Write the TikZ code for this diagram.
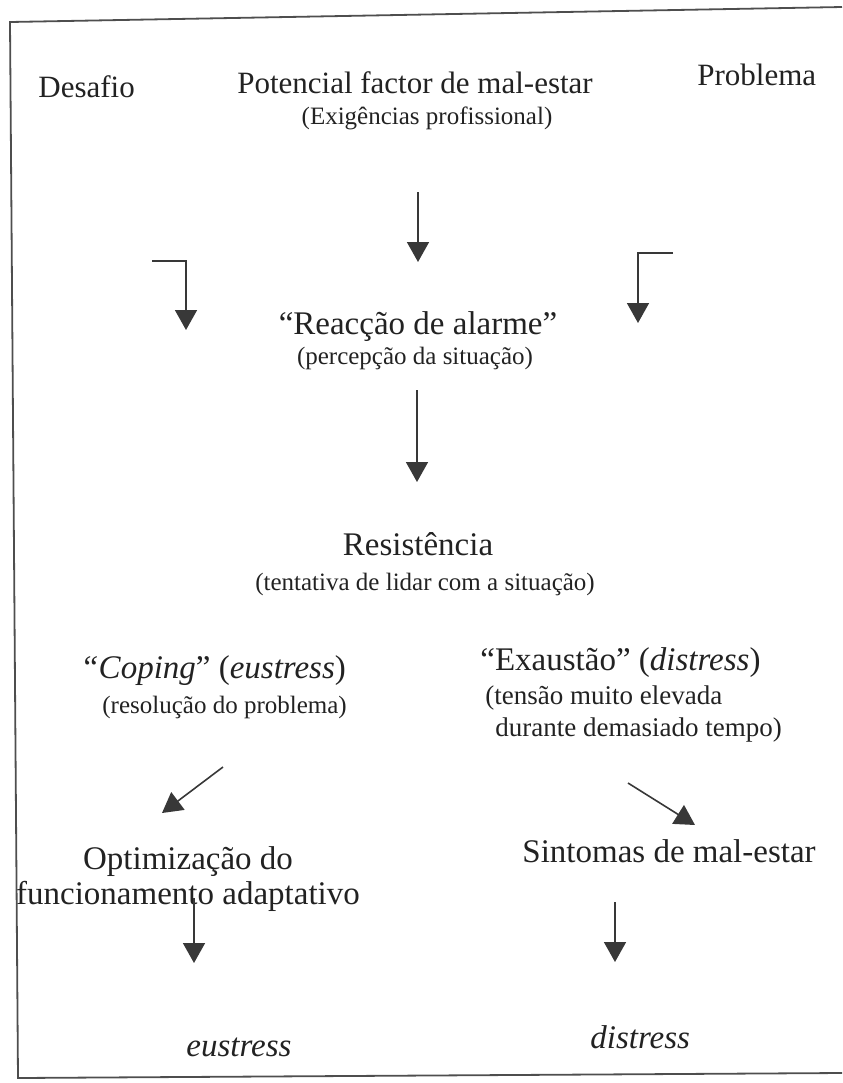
\documentclass[tikz,border=0pt]{standalone}
\usepackage{fontspec}
\setmainfont{Liberation Serif}
\usetikzlibrary{arrows.meta}
\definecolor{tinta}{HTML}{222222}
\tikzset{
	seta/.style={line width=0.8pt, color=tinta!90, -{Triangle[width=11pt,length=10pt]}},
	moldura/.style={line width=0.9pt, color=tinta!80},
	titulo/.style={inner sep=0pt, text=tinta, font=\fontsize{15.5}{18}\selectfont},
	grande/.style={inner sep=0pt, text=tinta, font=\fontsize{16.5}{17.5}\selectfont},
	sub/.style={inner sep=0pt, text=tinta, font=\fontsize{12.5}{15}\selectfont}
}

\begin{document}
\begin{tikzpicture}[x=0.5pt, y=-0.5pt]
	%%%%% START %%%%%
	\useasboundingbox (0, 0) rectangle (842, 1083);
	
	\draw[moldura] (842, 7) -- (10, 22) -- (18, 1078) -- (842, 1073);
	
	\node[titulo, anchor=base west] (desafio) at (38, 97) {Desafio};
	\node[titulo, anchor=base] (factor) at (415, 93) {Potencial factor de mal-estar};
	\node[sub, anchor=base] (exig) at (427, 124) {(Exigências profissional)};
	\node[titulo, anchor=base west] (problema) at (697, 85) {Problema};
	
	\coordinate (a1) at (418, 192);
	\coordinate (b1) at (418, 262);
	\draw[seta] (a1) -- (b1);
	
	\coordinate (c1) at (152, 261);
	\coordinate (d1) at (186, 330);
	\draw[seta] (c1) -| (d1);
	\coordinate (c2) at (673, 253);
	\coordinate (d2) at (638, 323);
	\draw[seta] (c2) -| (d2);
	
	\node[grande, anchor=base] (alarme) at (418, 334) {“Reacção de alarme”};
	\node[sub, anchor=base] (percep) at (415, 364) {(percepção da situação)};
	
	\coordinate (a2) at (417, 390);
	\coordinate (b2) at (417, 482);
	\draw[seta] (a2) -- (b2);
	
	\node[grande, anchor=base] (resist) at (418, 555) {Resistência};
	\node[sub, anchor=base] (tentat) at (425, 590) {(tentativa de lidar com a situação)};
	
	\node[grande, anchor=base west] (coping) at (80, 678) {\textit{“Coping}” (\textit{eustress})};
	\node[sub, anchor=base west] (resol) at (102, 713) {(resolução do problema)};
	\node[grande, anchor=base west] (exaust) at (480, 670) {“Exaustão” (\textit{distress})};
	\node[sub, anchor=west, align=left, font=\fontsize{13.5}{16}\selectfont] (tensao) at (485, 714)
		{(tensão muito elevada\\\hspace*{5pt}durante demasiado tempo)};
	
	\coordinate (a3) at (223, 767);
	\coordinate (b3) at (162, 813);
	\draw[seta] (a3) -- (b3);
	\coordinate (a4) at (628, 783);
	\coordinate (b4) at (695, 825);
	\draw[seta] (a4) -- (b4);
	
	\node[grande, align=center] (optim) at (188, 879) {Optimização do\\funcionamento adaptativo};
	\node[grande, anchor=base west] (sintomas) at (522, 862) {Sintomas de mal-estar};
	
	\coordinate (a5) at (194, 898);
	\coordinate (b5) at (194, 963);
	\draw[seta] (a5) -- (b5);
	\coordinate (a6) at (615, 902);
	\coordinate (b6) at (615, 962);
	\draw[seta] (a6) -- (b6);
	
	\node[grande, anchor=base west] (eus) at (186, 1056) {\textit{eustress}};
	\node[grande, anchor=base west] (dis) at (590, 1048) {\textit{distress}};
	
	%%%%% END %%%%%
\end{tikzpicture}
\end{document}
